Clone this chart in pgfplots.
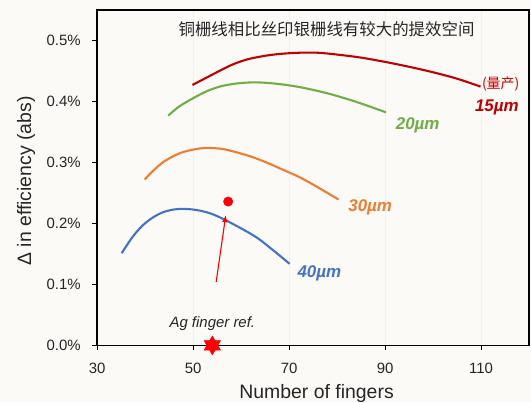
\documentclass[border=0pt]{standalone}
\usepackage{pgfplots}
\pgfplotsset{compat=1.18}
\usepackage{fontspec}
\setmainfont{Liberation Sans}
\newfontfamily\cjk{Noto Sans CJK SC}
\usetikzlibrary{arrows.meta}
\definecolor{bgc}{HTML}{FCFAF7}
\definecolor{cred}{HTML}{C00000}
\definecolor{cgreen}{HTML}{70AD47}
\definecolor{corange}{HTML}{ED7D31}
\definecolor{cblue}{HTML}{4472C4}
\definecolor{tgray}{HTML}{262626}
\begin{document}
\begin{tikzpicture}
\fill[bgc] (-97.2bp,-57bp) rectangle (433.8bp,345.4bp);
\begin{axis}[
  at={(0,0)}, anchor=south west,
  scale only axis, width=431.8bp, height=335.7bp,
  xmin=30, xmax=120, ymin=0, ymax=0.55,
  clip=false,
  xtick={30,50,70,90,110},
  ytick={0,0.1,0.2,0.3,0.4,0.5},
  axis line style={line width=1.7pt},
  tick style={black, line width=0.8pt},
  tick align=outside, major tick length=5bp,
  xtick pos=bottom, ytick pos=left,
  xmajorgrids, major x grid style={black!6, line width=0.6pt},
  ticklabel style={font=\fontsize{15}{18}\selectfont, text=tgray},
  /pgf/number format/assume math mode=true,
  yticklabel={\pgfmathprintnumber[fixed,fixed zerofill,precision=1]{\tick}\%},
  xticklabel style={yshift=-9bp},
  yticklabel style={xshift=-8bp},
  xlabel={Number of fingers},
  ylabel={Δ in efficiency (abs)},
  label style={font=\fontsize{19.5}{22}\selectfont, text=tgray},
  xlabel style={at={(axis description cs:0.508,0)}, anchor=base, yshift=-53bp},
  ylabel style={at={(axis description cs:-0.1644,0.49)}, anchor=center, rotate=0},
]
% 15 um
\addplot[cred, line width=2.1pt, smooth] coordinates {
(49.85,0.4267) (52,0.4355) (55,0.4478) (58,0.4595) (60,0.4655) (62,0.4700) (65,0.4745)
(68,0.4775) (72,0.4795) (76,0.4795) (80,0.4765) (85,0.4715) (90,0.4645) (95,0.4565)
(100,0.4475) (105,0.4370) (109.9,0.4240)};
% 20 um
\addplot[cgreen, line width=2.1pt, smooth] coordinates {
(44.8,0.3764) (47,0.3910) (50,0.4050) (53,0.4170) (56,0.4250) (59.5,0.4295) (63,0.4310)
(67,0.4290) (72,0.4235) (78,0.4130) (84,0.3990) (90.2,0.3818)};
% 30 um
\addplot[corange, line width=2.1pt, smooth] coordinates {
(39.9,0.2717) (41.5,0.2850) (43.7,0.3000) (46,0.3105) (48,0.3170) (50.5,0.3215)
(52.8,0.3236) (56,0.3220) (59,0.3164) (62,0.3095) (65.2,0.3000) (68.5,0.2885)
(72.2,0.2755) (76,0.2590) (80.3,0.2390)};
% 40 um
\addplot[cblue, line width=2.1pt, smooth] coordinates {
(35.1,0.1510) (37.3,0.1770) (39.4,0.1960) (41.5,0.2090) (43.5,0.2175) (45.5,0.2220)
(47.5,0.2237) (49.5,0.2230) (51.4,0.2208) (53.5,0.2165) (55.5,0.2100) (59,0.1960)
(63.2,0.1770) (66.5,0.1570) (70.1,0.1337)};
% arrow
\addplot[red, line width=1.1pt, -{Latex[length=7bp,width=5.5bp]}] coordinates {(54.8,0.104) (56.8,0.2135)};
% red dot
\addplot[only marks, mark=*, mark size=4.7bp, red] coordinates {(57.3,0.2357)};
% star
\addplot[only marks, mark=triangle*, mark size=9.5bp, red, mark options={draw=red, fill=red}] coordinates {(54,0)};
\addplot[only marks, mark=triangle*, mark size=9.5bp, red, mark options={draw=red, fill=red, rotate=180}] coordinates {(54,0)};
% labels
\node[font=\fontsize{15}{18}\selectfont\itshape, text=tgray] at (axis cs:54,0.0355) {Ag finger ref.};
\node[font=\fontsize{17}{20}\selectfont\bfseries\itshape, text=cblue] at (axis cs:76.3,0.1173) {40µm};
\node[font=\fontsize{17}{20}\selectfont\bfseries\itshape, text=corange] at (axis cs:86.9,0.2264) {30µm};
\node[font=\fontsize{17}{20}\selectfont\bfseries\itshape, text=cgreen] at (axis cs:96.8,0.361) {20µm};
\node[font=\fontsize{17}{20}\selectfont\bfseries\itshape, text=cred] at (axis cs:113.3,0.390) {15µm};
\node[font=\fontsize{14}{16}\selectfont\cjk, text=red!80!black] at (axis cs:114.1,0.428) {(量产)};
\node[font=\fontsize{16.5}{19}\selectfont\cjk, text=tgray] at (axis cs:77.8,0.518) {铜栅线相比丝印银栅线有较大的提效空间};
\end{axis}
\pgfresetboundingbox
\useasboundingbox (-97.2bp,-57bp) rectangle (433.8bp,345.4bp);
\end{tikzpicture}
\end{document}
